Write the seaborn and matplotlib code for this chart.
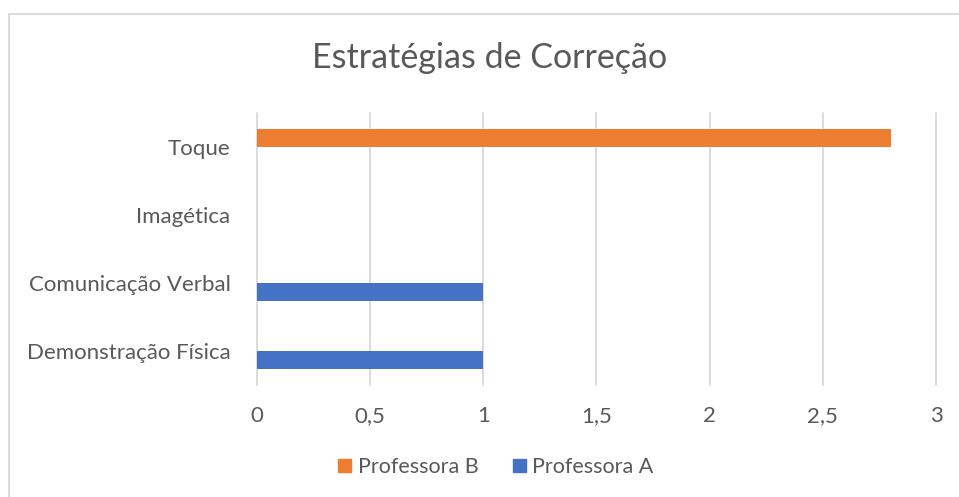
import numpy as np
import pandas as pd
import matplotlib
matplotlib.use("Agg")
import matplotlib.pyplot as plt
from matplotlib.patches import Rectangle, Patch
from matplotlib.ticker import FuncFormatter
import seaborn as sns

# data
categories = ["Toque", "Imagética", "Comunicação Verbal", "Demonstração Física"]
professora_a = [0, 0, 1, 1]
professora_b = [2.8, 0, 0, 0]
series_names = ["Professora B", "Professora A"]
colors = {"Professora B": "#ED7D31", "Professora A": "#4472C4"}
x_ticks = [0, 0.5, 1, 1.5, 2, 2.5, 3]

df = pd.DataFrame({
    "categoria": categories * 2,
    "valor": professora_b + professora_a,
    "serie": ["Professora B"] * 4 + ["Professora A"] * 4,
})

sns.set_style("white")
plt.rcParams["font.family"] = ["Lato", "DejaVu Sans"]
text_color = "#595959"

fig = plt.figure(figsize=(9.59, 4.97), dpi=100)
ax = fig.add_axes([0.268, 0.225, 0.708, 0.548])

sns.barplot(data=df, x="valor", y="categoria", hue="serie",
            order=categories, hue_order=series_names, palette=colors,
            width=0.515, orient="h", ax=ax, legend=False, saturation=1,
            linewidth=0)

ax.set_xlim(0, 3)
ax.set_xticks(x_ticks)
ax.xaxis.set_major_formatter(FuncFormatter(lambda v, p: f"{v:g}".replace(".", ",")))
ax.grid(axis="x", color="#d9d9d9", linewidth=1.3)
for gl in ax.get_xgridlines():
    gl.set_clip_on(False)
ax.set_axisbelow(True)
for s in ax.spines.values():
    s.set_visible(False)
ax.set_xlabel("")
ax.set_ylabel("")
ax.tick_params(axis="both", length=0, labelsize=16, labelcolor=text_color)
ax.tick_params(axis="x", pad=15)
ax.tick_params(axis="y", pad=19)

fig.text(0.511, 0.883, "Estratégias de Correção", ha="center", va="center",
         fontsize=24.5, color=text_color)

handles = [Patch(color=colors[n]) for n in series_names]
fig.legend(handles, series_names, loc="center", bbox_to_anchor=(0.517, 0.06),
           ncol=2, frameon=False, fontsize=15.5, labelcolor=text_color,
           handlelength=0.6, handleheight=0.6, handletextpad=0.3, columnspacing=1.6)

fig.patches.append(Rectangle((0.0099, -0.02), 1.05, 0.991, transform=fig.transFigure,
                             fill=False, edgecolor="#d9d9d9", linewidth=1.3))

fig.savefig("out.png", dpi=100)
